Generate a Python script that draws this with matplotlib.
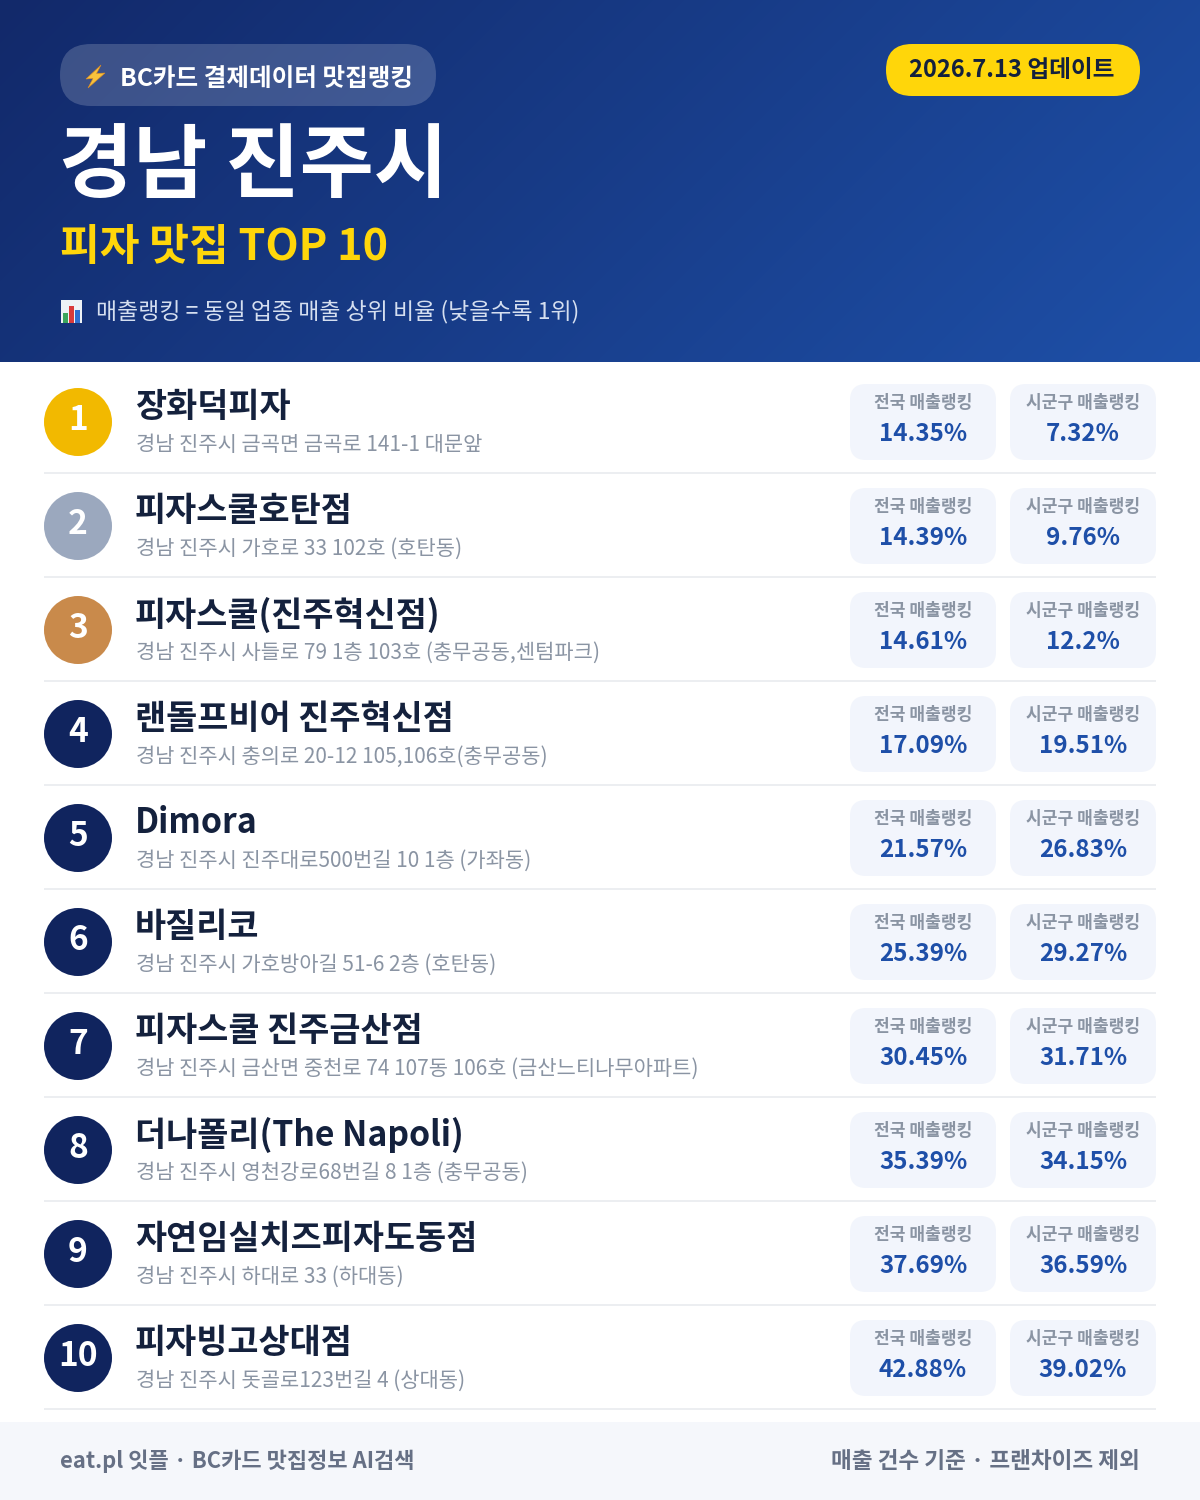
import numpy as np
import matplotlib
matplotlib.use("Agg")
import matplotlib.pyplot as plt
from matplotlib.patches import FancyBboxPatch, Circle, Rectangle, Polygon
from matplotlib.colors import LinearSegmentedColormap

plt.rcParams['font.family'] = ['Noto Sans CJK KR', 'DejaVu Sans']

ranks = ['1', '2', '3', '4', '5', '6', '7', '8', '9', '10']
names = ['장화덕피자', '피자스쿨호탄점', '피자스쿨(진주혁신점)', '랜돌프비어 진주혁신점', 'Dimora', '바질리코',
         '피자스쿨 진주금산점', '더나폴리(The Napoli)', '자연임실치즈피자도동점', '피자빙고상대점']
addresses = ['경남 진주시 금곡면 금곡로 141-1 대문앞',
             '경남 진주시 가호로 33 102호 (호탄동)',
             '경남 진주시 사들로 79 1층 103호 (충무공동,센텀파크)',
             '경남 진주시 충의로 20-12 105,106호(충무공동)',
             '경남 진주시 진주대로500번길 10 1층 (가좌동)',
             '경남 진주시 가호방아길 51-6 2층 (호탄동)',
             '경남 진주시 금산면 중천로 74 107동 106호 (금산느티나무아파트)',
             '경남 진주시 영천강로68번길 8 1층 (충무공동)',
             '경남 진주시 하대로 33 (하대동)',
             '경남 진주시 돗골로123번길 4 (상대동)']
national = ['14.35%', '14.39%', '14.61%', '17.09%', '21.57%', '25.39%', '30.45%', '35.39%', '37.69%', '42.88%']
local = ['7.32%', '9.76%', '12.2%', '19.51%', '26.83%', '29.27%', '31.71%', '34.15%', '36.59%', '39.02%']
badge_colors = ['#F2B900', '#9BA8BE', '#C98A4B'] + ['#10245E'] * 7

NAVY = '#14213D'
BLUE = '#1E4FA8'

def px(v):
    return v * 0.72

fig = plt.figure(figsize=(12, 15), dpi=100, facecolor='white')
ax = fig.add_axes([0, 0, 1, 1])
ax.set_xlim(0, 1200)
ax.set_ylim(1500, 0)
ax.axis('off')

# header gradient
cmap = LinearSegmentedColormap.from_list('hdr', ['#12296A', '#1E50A8'])
h, w = 362, 1200
yy, xx = np.mgrid[0:h, 0:w]
t = (xx * 1.0 + yy * 1.0) / (w + h)
ax.imshow(t, extent=(0, 1200, 362, 0), cmap=cmap, vmin=0, vmax=1, aspect='auto', zorder=0)
ax.set_xlim(0, 1200)
ax.set_ylim(1500, 0)

def rbox(x0, y0, x1, y1, r, **kw):
    p = FancyBboxPatch((x0 + r, y0 + r), x1 - x0 - 2 * r, y1 - y0 - 2 * r,
                       boxstyle=f'round,pad={r},rounding_size={r}', linewidth=0, **kw)
    ax.add_patch(p)

# header pill
rbox(60, 44, 436, 106, 31, facecolor='white', alpha=0.18, zorder=1)
ax.add_patch(Polygon([(101, 65), (86, 79), (93, 78.5), (88, 88), (105, 73), (96.5, 73.5)],
                     closed=True, facecolor='#F7C23C', edgecolor='#E08A1E', linewidth=0.4, zorder=2))
ax.text(120, 79, 'BC카드 결제데이터 맛집랭킹', color='white', fontsize=px(24.6), fontweight='bold',
        va='center', ha='left', zorder=2)

# date pill
rbox(886, 44, 1140, 96, 26, facecolor='#FFD60A', zorder=1)
ax.text(1012, 70, '2026.7.13 업데이트', color='#14213D', fontsize=px(23.7), fontweight='bold',
        va='center', ha='center', zorder=2)

ax.text(59, 167, '경남 진주시', color='white', fontsize=px(80.6), fontweight='bold', va='center', ha='left', zorder=2)
ax.text(60, 247, '피자 맛집 TOP 10', color='#FFD60A', fontsize=px(43.2), fontweight='bold', va='center', ha='left', zorder=2)

# chart icon
ax.add_patch(Rectangle((61, 300), 21, 23, facecolor='#EEF2F6', linewidth=0, zorder=2))
ax.add_patch(Rectangle((63, 313), 4.5, 10, facecolor='#3BA55D', linewidth=0, zorder=3))
ax.add_patch(Rectangle((69, 306), 4.5, 17, facecolor='#D93A3A', linewidth=0, zorder=3))
ax.add_patch(Rectangle((75, 310), 4.5, 13, facecolor='#2F6FD0', linewidth=0, zorder=3))
ax.text(96, 312, '매출랭킹 = 동일 업종 매출 상위 비율 (낮을수록 1위)', color='#D5DFF0', fontsize=px(22.9),
        va='center', ha='left', zorder=2)

# rows
row_h = 104
for i in range(len(names)):
    top = 362 + row_h * i
    ax.add_patch(Circle((78, top + 60), 34, facecolor=badge_colors[i], linewidth=0, zorder=2))
    ax.text(78, top + 59, ranks[i], color='white', fontsize=px(33.5), fontweight='bold', va='center', ha='center', zorder=3)
    ax.text(135, top + 44.5, names[i], color=NAVY, fontsize=px(33.8), fontweight='bold', va='center', ha='left', zorder=2)
    ax.text(135.5, top + 83, addresses[i], color='#8A94A3', fontsize=px(20.9), va='center', ha='left', zorder=2)
    for x0, lab, val in ((850, '전국 매출랭킹', national[i]), (1010, '시군구 매출랭킹', local[i])):
        rbox(x0, top + 22, x0 + 146, top + 98, 16, facecolor='#F2F5FC', zorder=1)
        ax.text(x0 + 73, top + 41, lab, color='#8A94A3', fontsize=px(17.1), fontweight='bold', va='center', ha='center', zorder=2)
        ax.text(x0 + 73, top + 72, val, color=BLUE, fontsize=px(24.2), fontweight='bold', va='center', ha='center', zorder=2)
    ax.add_patch(Rectangle((44, top + 110), 1112, 2, facecolor='#ECEEF1', linewidth=0, zorder=1))

# footer
ax.add_patch(Rectangle((0, 1422), 1200, 78, facecolor='#F5F7FB', linewidth=0, zorder=1))
ax.text(60, 1461, 'eat.pl 잇플 · BC카드 맛집정보 AI검색', color='#667085', fontsize=px(22.0), fontweight='bold', va='center', ha='left', zorder=2)
ax.text(1140, 1461, '매출 건수 기준 · 프랜차이즈 제외', color='#667085', fontsize=px(22.6), fontweight='bold', va='center', ha='right', zorder=2)

fig.savefig('out.png', dpi=100)
